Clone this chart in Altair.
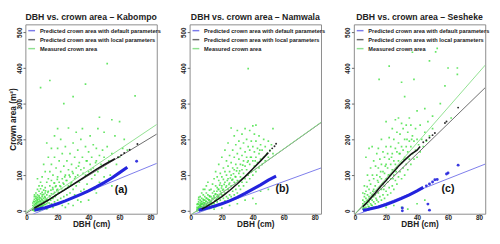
import altair as alt
import pandas as pd

FONT = "Liberation Sans"
SERIES = ["Predicted crown area with default parameters",
          "Predicted crown area with local parameters",
          "Measured crown area"]
LINE_COLORS = ["#7a7aea", "#6a6a6a", "#8fe08f"]

TITLES = ["DBH vs. crown area \u2013 Kabompo",
          "DBH vs. crown area \u2013 Namwala",
          "DBH vs. crown area \u2013 Sesheke"]
TAGS = ["(a)", "(b)", "(c)"]
TAG_POS = [(61, 57), (59, 62), (60, 62)]
X_TICKS = [0, 20, 40, 60, 80]
Y_TICKS = [0, 100, 200, 300, 400, 500]

# measured crown area (dbh cm, area m2)
meas_a = [(4,2),(4,8),(4,15),(5,0),(5,5),(5,10),(5,18),(5,25),(5,32),(6,2),(6,7),(6,12),(6,20),(6,28),(6,40),(6,50),
          (7,1),(7,6),(7,14),(7,22),(7,30),(7,38),(7,45),(7,60),(8,3),(8,9),(8,17),(8,25),(8,33),(8,42),(8,55),(9,2),
          (9,10),(9,19),(9,27),(9,36),(9,48),(9,62),(10,4),(10,12),(10,21),(10,30),(10,40),(10,52),(10,70),(11,6),(11,15),
          (11,25),(11,35),(11,46),(11,58),(12,8),(12,18),(12,28),(12,38),(12,50),(12,65),(13,5),(13,20),(13,33),(13,45),
          (13,80),(4,22),(5,40),(6,35),(8,70),(9,80),(7,90),(10,95),(5.5,3),(6.5,9),(7.5,16),(8.5,4),(9.5,14),(6.5,24),
          (14,12),(14,30),(14,55),(14,90),(15,15),(15,40),(15,70),(15,110),(16,20),(16,48),(16,85),(16,130),(17,10),
          (17,35),(17,60),(17,100),(18,25),(18,52),(18,78),(18,150),(19,18),(19,45),(19,70),(19,120),(20,30),(20,60),
          (20,95),(20,175),(21,22),(21,50),(21,80),(21,140),(22,35),(22,68),(22,110),(22,200),(23,15),(23,55),(23,90),
          (23,160),(24,40),(24,75),(24,125),(25,28),(25,62),(25,100),(25,180),(26,45),(26,85),(26,140),(27,20),(27,70),
          (27,115),(27,232),(28,50),(28,95),(28,160),(29,35),(29,80),(29,130),(30,60),(30,105),(30,190),(31,45),(31,90),
          (31,150),(32,70),(32,120),(32,220),(33,30),(33,100),(33,170),(34,80),(34,135),(35,55),(35,115),(35,200),
          (12,110),(14,150),(16,175),(11,130),(13,190),(18,210),(20,230),(15,365),(9,345),(24,300),(30,320),(38,355),
          (52,412),(47,262),(36,90),(36,150),(37,60),(37,120),(38,100),(38,180),(39,75),(39,140),(40,110),(40,165),
          (41,130),(41,210),(42,90),(42,150),(43,120),(43,185),(44,60),(44,100),(45,140),(45,175),(46,110),(47,80),
          (47,155),(48,130),(49,170),(50,95),(50,150),(51,120),(52,180),(53,140),(54,100),(55,160),(55,255),(57,210),
          (58,130),(60,150),(60,250),(62,175),(65,170),(70,322),(63,200),(46,230),(36,230),(50,220),(30,15),(40,30),
          (45,50),(55,70),(25,10),(35,25)]
extra_a = [(4.3,3.5),(4.7,11),(5.2,6.5),(5.4,14),(5.8,21),(6.2,4.5),(6.4,17),(6.8,9.5),(7.3,26),(7.6,11.5),(7.9,4),
           (8.3,20),(8.6,29),(8.8,13),(9.2,7),(9.4,23),(9.7,33),(10.3,16),(10.6,8.5),(10.8,26),(11.3,19),(11.6,40),
           (12.3,12),(12.6,33),(13.4,25),(13.7,52),(14.5,22),(14.8,42),(15.5,30),(15.7,58),(16.5,36),(16.8,65),
           (17.4,48),(17.7,78),(18.5,40),(18.6,68),(19.5,58),(19.8,88),(20.5,52),(21.5,70),(22.6,62),(23.5,78),
           (24.6,95),(25.5,85),(26.5,65),(27.5,100),(28.6,75),(29.5,110),(31.5,95),(33.5,125),(36.5,105),(38.5,140),
           (41.5,115),(44.5,135),(4.5,27),(6.7,33),(8.2,38),(10.1,45),(12.2,56),(5.1,45)]
meas_b = [(4,0),(4,5),(4,10),(5,2),(5,7),(5,12),(5,18),(5,25),(6,1),(6,6),(6,11),(6,16),(6,22),(6,30),(7,3),(7,8),
          (7,13),(7,19),(7,26),(7,35),(8,2),(8,7),(8,12),(8,18),(8,24),(8,32),(8,45),(9,4),(9,10),(9,16),(9,22),(9,30),
          (9,40),(10,5),(10,12),(10,19),(10,27),(10,36),(10,50),(11,8),(11,15),(11,24),(11,33),(11,45),(12,6),(12,14),
          (12,22),(12,31),(12,42),(12,58),(4,18),(5,32),(6,40),(7,50),(9,60),(10,70),(11,80),(8,60),(5.5,4),(6.5,9),
          (7.5,5),(8.5,14),(9.5,8),(6.5,19),
          (13,10),(13,25),(13,40),(13,60),(14,15),(14,32),(14,50),(14,75),(15,20),(15,38),(15,55),(15,90),(16,12),
          (16,30),(16,48),(16,70),(16,110),(17,25),(17,45),(17,65),(17,95),(18,18),(18,40),(18,60),(18,85),(18,130),
          (19,30),(19,55),(19,78),(19,105),(20,22),(20,45),(20,70),(20,95),(20,150),(21,35),(21,60),(21,88),(21,120),
          (22,28),(22,50),(22,80),(22,110),(22,170),(23,40),(23,70),(23,100),(23,140),(24,35),(24,60),(24,90),(24,125),
          (24,190),(25,45),(25,78),(25,110),(25,155),(26,40),(26,70),(26,100),(26,135),(26,232),(27,55),(27,88),
          (27,120),(27,170),(28,45),(28,80),(28,115),(28,150),(28,210),(29,60),(29,95),(29,130),(29,185),(30,50),
          (30,85),(30,120),(30,160),(30,225),(31,70),(31,105),(31,145),(31,195),(32,60),(32,95),(32,130),(32,175),
          (33,80),(33,115),(33,155),(33,215),(34,70),(34,105),(34,140),(34,190),(35,90),(35,125),(35,165),(35,230),
          (36,80),(36,115),(36,150),(36,200),(37,100),(37,140),(37,180),(37,398),(38,90),(38,130),(38,170),(38,225),
          (39,110),(39,150),(39,195),(40,100),(40,140),(40,180),(40,238),(41,125),(41,165),(41,215),(42,110),(42,150),
          (42,195),(42,240),(43,135),(43,175),(44,120),(44,160),(44,210),(45,145),(45,185),(46,130),(46,170),(47,150),
          (47,200),(48,140),(48,180),(49,160),(50,150),(50,195),(51,170),(52,185),(53,160),(53,230),(20,8),(25,15),
          (30,20),(35,30),(40,35),(45,55),(50,60),(15,5),(42,20)]
extra_b = [(4.3,2.5),(4.7,8),(5.2,4.5),(5.4,10),(5.8,15),(6.2,3.5),(6.4,13),(6.8,7.5),(7.3,20),(7.6,10),(7.9,3),
           (8.3,15),(8.6,22),(8.8,9),(9.2,6),(9.4,18),(9.7,26),(10.3,14),(10.6,8),(10.8,22),(11.3,17),(11.6,30),
           (12.3,10),(12.6,26),(13.4,18),(13.7,35),(14.5,22),(14.8,42),(15.5,28),(15.7,46),(16.5,34),(16.8,55),
           (17.4,38),(17.7,60),(18.5,46),(18.6,72),(19.5,50),(19.8,64),(20.5,58),(21.5,74),(22.6,66),(23.5,85),
           (24.6,74),(25.5,92),(26.5,86),(27.5,104),(28.6,96),(29.5,112),(31.5,112),(33.5,128),(36.5,136),(38.5,150),
           (41.5,140),(44.5,170),(4.5,20),(6.7,26),(8.2,30),(10.1,35),(12.2,40),(5.1,38)]
meas_c = [(5,5),(5,12),(5,20),(5,30),(6,8),(6,15),(6,25),(6,40),(7,10),(7,20),(7,35),(7,55),(8,6),(8,18),(8,30),
          (8,45),(9,12),(9,25),(9,40),(9,60),(10,8),(10,20),(10,35),(10,50),(10,75),(11,15),(11,30),(11,45),(12,10),
          (12,25),(12,40),(12,60),(12,90),(5,50),(6,70),(8,100),(7,150),(9,175),(10,120),(11,180),(12,140),(13,20),
          (13,45),(13,70),(14,30),(14,55),(14,100),(14,160),(15,25),(15,50),(15,80),(15,120),(15,175),(16,40),(16,65),
          (16,95),(16,145),(17,30),(17,60),(17,90),(17,130),(17,200),(18,45),(18,75),(18,110),(18,165),(19,35),(19,70),
          (19,105),(19,150),(20,55),(20,90),(20,130),(20,180),(20,250),(21,45),(21,80),(21,120),(21,160),(22,65),
          (22,100),(22,145),(22,205),(22,405),(23,50),(23,90),(23,130),(23,180),(24,70),(24,115),(24,160),(24,230),
          (25,60),(25,100),(25,140),(25,200),(26,85),(26,130),(26,175),(26,255),(27,75),(27,120),(27,165),(27,220),
          (28,95),(28,140),(28,190),(28,260),(29,110),(29,160),(29,215),(30,90),(30,135),(30,180),(30,245),(30,360),
          (31,120),(31,170),(31,230),(32,100),(32,150),(32,200),(32,320),(33,130),(33,180),(33,240),(34,115),(34,165),
          (34,220),(35,145),(35,195),(35,260),(36,130),(36,180),(36,240),(37,160),(37,210),(37,444),(38,145),(38,195),
          (38,368),(39,170),(39,230),(40,150),(40,200),(40,280),(41,185),(42,165),(42,240),(43,200),(44,180),(45,286),
          (45,220),(46,195),(47,250),(48,210),(48,420),(50,230),(52,445),(53,455),(50,265),(60,400),(66,400),(66,382),
          (55,300),(58,350),(62,260),(15.5,368),(34,5),(30,10),(40,20),(45,30),(25,15),(20,10)]
extra_c = [(5.5,8),(6.5,18),(7.5,28),(8.5,12),(9.5,33),(10.5,16),(11.5,55),(13.5,35),(14.5,85),(16.5,110),(18.5,60),
           (19.5,125),(21.5,100),(23.5,150),(24.5,90),(26.5,110),(28.5,160),(31.5,145),(33.5,200),(36.5,200),(6.2,48),
           (7.8,68),(9.2,85),(11.2,100),(13.2,125)]

# predicted with default parameters (blue): dense band + isolated points
blue_a = [(5,2),(8,5),(10,7),(12,9),(15,13),(18,17),(20,20),(25,28),(30,37),(35,46),(40,56),(45,67),(50,79),(55,92),(60,107),(65,122)]
blue_a_iso = [(71,139)]
blue_b = [(5,2),(8,5),(10,7),(15,13),(20,20),(25,28),(30,38),(35,49),(40,61),(45,73),(50,86),(55,97)]
blue_b_iso = []
blue_c = [(5,2),(8,4),(10,6),(15,11),(20,18),(25,26),(30,35),(35,45),(40,56),(44,66)]
blue_c_iso = [(46,70),(48,75),(50,81),(51.5,87),(53,88),(59,103),(60,106),(66.5,128),(30.5,8),(30.5,0),(47,19),(48,2)]

# predicted with local parameters (black)
black_a = [(5,8),(10,20),(15,33),(20,47),(25,60),(30,74),(35,88),(40,102),(45,116),(50,129),(55,141),(57,146)]
black_a_iso = [(59,150),(61,156),(63,162),(66.5,171),(71.5,187)]
black_b = [(7,5),(10,12),(15,25),(20,40),(25,57),(30,76),(35,96),(40,118),(45,140),(50,163)]
black_b_iso = [(51,168),(52.5,175),(54,181),(55,188)]
black_c = [(5,12),(8,25),(10,35),(13,50),(16,66),(20,85),(24,105),(28,125),(32,142),(36,158),(40,170),(42,180)]
black_c_iso = [(44,192),(46,198),(48,205),(50,212),(51.5,218),(58,246),(59,250),(66.5,289)]

# fitted straight lines: (value at x=-0.8, value at x=84) for default, local, measured
lines_a = [(-18, 133), (-8, 215), (-5, 242)]
lines_b = [(-14, 120), (-14, 247), (-14, 248)]
lines_c = [(-14, 131), (-12, 345), (-12, 408)]

X_DOM = [-0.8, 84]
Y_DOM = [-8, 522]


def pts(lst):
    return pd.DataFrame(lst, columns=["dbh", "area"])


def panel(i, meas, blue, blue_iso, black, black_iso, lines):
    xs = alt.Scale(domain=X_DOM, nice=False, zero=False)
    ys = alt.Scale(domain=Y_DOM, nice=False, zero=False)
    xenc = alt.X("dbh:Q", scale=xs, title="DBH (cm)",
                 axis=alt.Axis(values=X_TICKS, tickSize=2, labelPadding=-1, titlePadding=-1,
                               labelFontSize=6.5, titleFontSize=8.5))
    if i == 0:
        yenc = alt.Y("area:Q", scale=ys, title="Crown area (m\u00b2)",
                     axis=alt.Axis(values=Y_TICKS, tickSize=2.5, labelPadding=0.5, titlePadding=-0.5,
                                   labelAngle=270, labelFontSize=6.5, titleFontSize=8.5))
    else:
        yenc = alt.Y("area:Q", scale=ys, title=None,
                     axis=alt.Axis(values=Y_TICKS, tickSize=2.5, labelPadding=0.5,
                                   labelAngle=270, labelFontSize=6.5))

    rows = []
    for s, (y0, y1) in zip(SERIES, lines):
        rows.append({"series": s, "dbh": X_DOM[0], "area": y0})
        rows.append({"series": s, "dbh": X_DOM[1], "area": y1})
    ldf = pd.DataFrame(rows)

    green = alt.Chart(pts(meas)).mark_square(size=3, color="#3fe03f", opacity=0.8, clip=True).encode(x=xenc, y=yenc)
    fit = alt.Chart(ldf).mark_line(strokeWidth=1, clip=True).encode(
        x=xenc, y=yenc,
        color=alt.Color("series:N", scale=alt.Scale(domain=SERIES, range=LINE_COLORS),
                        legend=alt.Legend(orient="top-left", title=None, symbolType="stroke",
                                          symbolStrokeWidth=1.5, symbolSize=49, labelFontSize=5.8,
                                          labelFont=FONT, labelFontWeight="bold", labelColor="#222",
                                          rowPadding=1.3, padding=1, offset=1, labelLimit=0,
                                          labelOffset=4)),
        detail="series:N")
    bl = alt.Chart(pts(blue)).mark_line(strokeWidth=3.2, color="#2323dd", clip=True).encode(x=xenc, y=yenc)
    bl_iso = alt.Chart(pts(blue_iso)).mark_circle(size=9, color="#2323dd", opacity=0.9, clip=True).encode(x=xenc, y=yenc)
    bk = alt.Chart(pts(black)).mark_line(strokeWidth=1.6, color="#151515").encode(x=xenc, y=yenc)
    bk_iso = alt.Chart(pts(black_iso)).mark_circle(size=4, color="#151515", opacity=0.9).encode(x=xenc, y=yenc)
    tag = alt.Chart(pd.DataFrame([{"dbh": TAG_POS[i][0], "area": TAG_POS[i][1], "t": TAGS[i]}])).mark_text(
        fontSize=11, fontWeight="bold", font=FONT, color="#111").encode(x=xenc, y=yenc, text="t:N")
    layers = [green, fit, bl, bk, tag]
    if len(blue_iso):
        layers.append(bl_iso)
    layers.append(bk_iso)
    return alt.layer(*layers).properties(
        width=136, height=196,
        title=alt.TitleParams(TITLES[i], fontSize=9, font=FONT, fontWeight="bold", color="#222", offset=3))


pa = panel(0, meas_a + extra_a, blue_a, blue_a_iso, black_a, black_a_iso, lines_a)
pb = panel(1, meas_b + extra_b, blue_b, blue_b_iso, black_b, black_b_iso, lines_b)
pc = panel(2, meas_c + extra_c, blue_c, blue_c_iso, black_c, black_c_iso, lines_c)

chart = alt.hconcat(pa, pb, pc, spacing=17).resolve_scale(color="independent").properties(
    padding={"left": 0, "top": 0, "right": 0, "bottom": 0}
).configure_view(stroke="#8a8a8a", strokeWidth=1).configure_axis(
    grid=False, domain=False, tickColor="#666", labelColor="#222", titleColor="#222",
    labelFont=FONT, titleFont=FONT, labelFontWeight="bold", titleFontWeight="bold"
)

chart.save("out.html", embed_options={"renderer": "svg", "actions": False})
